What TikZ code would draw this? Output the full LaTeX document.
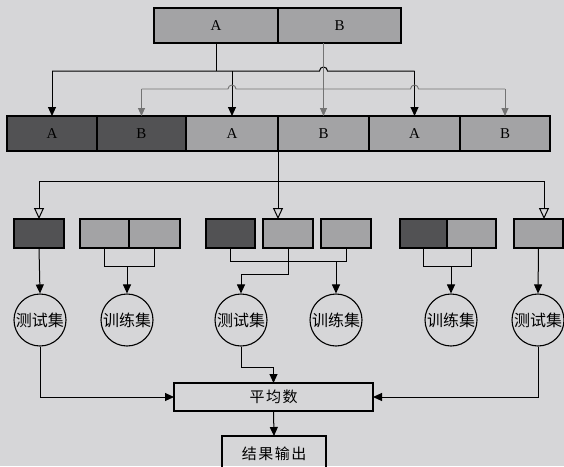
\documentclass[tikz,border=0pt]{standalone}
\usepackage{fontspec}
\setmainfont{Liberation Serif}
\newfontfamily\cjk{Noto Sans CJK SC}
\usetikzlibrary{arrows.meta}
\definecolor{bgc}{RGB}{214,214,216}
\definecolor{midg}{RGB}{163,163,165}
\definecolor{darkg}{RGB}{82,82,84}
\definecolor{lineg}{RGB}{115,115,115}
\tikzset{
  seg/.style={draw=black, line width=1.1pt, inner sep=0pt, outer sep=0pt, font=\fontsize{15}{15}\selectfont},
  lite/.style={seg, fill=midg},
  dark/.style={seg, fill=darkg},
  circ/.style={draw=black, line width=1.1pt, circle, minimum size=52pt, inner sep=0pt, font=\cjk\fontsize{16}{16}\selectfont},
  plain/.style={draw=black, line width=1.1pt, inner sep=0pt, outer sep=0pt, font=\cjk\fontsize{15}{15}\selectfont},
  ln/.style={draw=black, line width=1pt},
  arr/.style={ln, -{Triangle[length=9pt,width=8pt]}},
  garr/.style={draw=lineg, line width=0.9pt, -{Triangle[length=8pt,width=7pt]}},
  gln/.style={draw=lineg, line width=0.9pt},
  oarr/.style={ln, -{Triangle[open,length=11pt,width=10pt,fill=bgc]}}
}
\begin{document}
\begin{tikzpicture}[x=1pt,y=-1pt]
\fill[bgc] (0,0) rectangle (564,466);
\clip (0,0) rectangle (564,466);
\useasboundingbox (0,0) rectangle (564,466);
% top bar
\node[lite, minimum width=124pt, minimum height=35pt] (tA) at (216,25.5) {A};
\node[lite, minimum width=123pt, minimum height=35pt] (tB) at (339.5,25.5) {B};
% row 2
\node[dark, minimum width=90pt, minimum height=35pt] (r2a) at (52,133.5) {A};
\node[dark, minimum width=89pt, minimum height=35pt] (r2b) at (141.5,133.5) {B};
\node[lite, minimum width=92pt, minimum height=35pt] (r2c) at (232,133.5) {A};
\node[lite, minimum width=91pt, minimum height=35pt] (r2d) at (323.5,133.5) {B};
\node[lite, minimum width=91pt, minimum height=35pt] (r2e) at (414.5,133.5) {A};
\node[lite, minimum width=90pt, minimum height=35pt] (r2f) at (505,133.5) {B};
% row 3
\node[dark, minimum width=50pt, minimum height=29pt] (b1) at (39,233.5) {};
\node[lite, minimum width=49pt, minimum height=29pt] (b2) at (104.5,233.5) {};
\node[lite, minimum width=51pt, minimum height=29pt] (b3) at (154.5,233.5) {};
\node[dark, minimum width=49pt, minimum height=29pt] (b4) at (230.5,233.5) {};
\node[lite, minimum width=50pt, minimum height=29pt] (b5) at (288,233.5) {};
\node[lite, minimum width=50pt, minimum height=29pt] (b6) at (346,233.5) {};
\node[dark, minimum width=47pt, minimum height=29pt] (b7) at (423.5,233.5) {};
\node[lite, minimum width=49pt, minimum height=29pt] (b8) at (471.5,233.5) {};
\node[lite, minimum width=49pt, minimum height=29pt] (b9) at (538.5,233.5) {};
% circles
\node[circ] (c1) at (40,320) {测试集};
\node[circ] (c2) at (127,320) {训练集};
\node[circ] (c3) at (241,320) {测试集};
\node[circ] (c4) at (336,320) {训练集};
\node[circ] (c5) at (451,320) {训练集};
\node[circ] (c6) at (538,320) {测试集};
% bottom boxes
\node[plain, minimum width=199pt, minimum height=28pt] (avg) at (273.5,397) {平\hspace{1.5pt}均\hspace{1.5pt}数};
\node[plain, minimum width=104pt, minimum height=36pt] (out) at (274,454) {结\hspace{1.5pt}果\hspace{1.5pt}输\hspace{1.5pt}出};
% black distribution
\draw[ln] (tA.south) -- (tA.south |- 0,71);
\draw[ln] (r2a.north |- 0,71) -- (319.5,71) arc[start angle=180,end angle=0,radius=4pt] -- (r2e.north |- 0,71);
\draw[arr] (r2a.north |- 0,71) -- (r2a.north);
\draw[arr] (r2c.north |- 0,71) -- (r2c.north);
\draw[arr] (r2e.north |- 0,71) -- (r2e.north);
% gray distribution
\draw[garr] (r2d.north |- tB.south) -- (r2d.north);
\draw[gln] (r2b.north |- 0,89) -- (228,89) arc[start angle=180,end angle=0,radius=4pt] -- (410.5,89) arc[start angle=180,end angle=0,radius=4pt] -- (r2f.north |- 0,89);
\draw[garr] (r2b.north |- 0,89) -- (r2b.north);
\draw[garr] (r2f.north |- 0,89) -- (r2f.north);
% row2 to row3
\coordinate (m) at (r2c.south east);
\coordinate (oL) at (39,181);
\coordinate (oR) at (544,181);
\draw[ln] (m) -- (m |- oL);
\draw[ln] (oL) -- (oR);
\draw[oarr] (oL) -- (b1.north);
\draw[oarr] (m |- oL) -- (m |- b5.north);
\draw[oarr] (oR) -- (oR |- b9.north);
% row3 to circles
\draw[arr] (b1.south) -- (c1.north);
\draw[ln] (b2.south) -- (b2.south |- 0,266) -- (b3.south |- 0,266) -- (b3.south);
\draw[arr] (c2.north |- 0,266) -- (c2.north);
\draw[ln] (b4.south) -- (b4.south |- 0,261) -- (b6.south |- 0,261) -- (b6.south);
\draw[arr] (c4.north |- 0,261) -- (c4.north);
\draw[arr] (b5.south) -- (b5.south |- 0,274) -- (c3.north |- 0,274) -- (c3.north);
\draw[ln] (b7.south) -- (b7.south |- 0,266) -- (b8.south |- 0,266) -- (b8.south);
\draw[arr] (c5.north |- 0,266) -- (c5.north);
\draw[arr] (b9.south) -- (c6.north);
% circles to average
\draw[arr] (c1.south) |- (avg.west);
\draw[arr] (c3.south) -- (c3.south |- 0,367) -- (avg.north |- 0,367) -- (avg.north);
\draw[arr] (c6.south) |- (avg.east);
\draw[arr] (avg.south) -- (out.north);
\end{tikzpicture}
\end{document}
